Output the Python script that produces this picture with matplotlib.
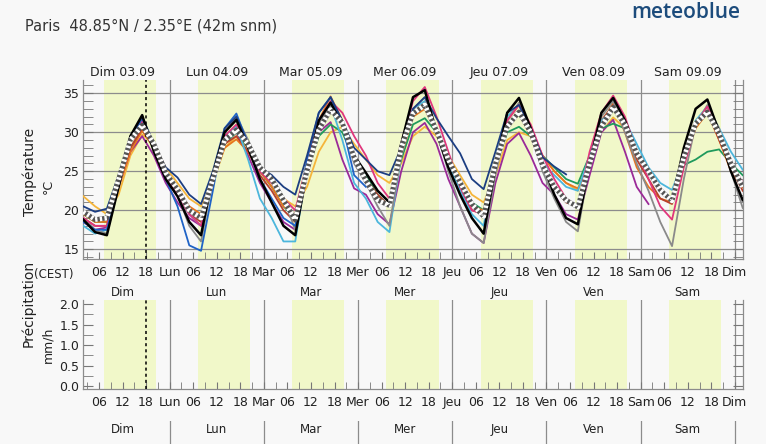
import matplotlib
matplotlib.use("Agg")
import matplotlib.pyplot as plt
from matplotlib.ticker import FixedLocator, MultipleLocator, FormatStrFormatter
import matplotlib.transforms as mtransforms

# hours since Dim 03.09 00:00 CEST, 3-hourly
hours = list(range(2, 171, 3))

day_names = ["Dim", "Lun", "Mar", "Mer", "Jeu", "Ven", "Sam", "Dim"]
day_dates = ["03.09", "04.09", "05.09", "06.09", "07.09", "08.09", "09.09"]

# temperature per model (°C)
t_black = [18.8, 17.2, 16.8, 23.0, 29.5, 32.2, 27.5, 24.0,
           21.8, 18.5, 16.8, 24.5, 30.0, 31.6, 28.0, 24.0,
           21.0, 18.0, 16.8, 25.0, 31.5, 33.8, 31.0, 27.0,
           24.8, 22.5, 21.0, 28.5, 34.5, 35.4, 30.0, 25.5,
           22.0, 19.0, 17.0, 25.5, 32.5, 34.4, 30.5, 26.0,
           22.0, 19.0, 18.2, 26.0, 32.5, 34.4, 31.5, 27.5,
           25.0, 22.5, 21.2, 28.0, 33.0, 34.2, 30.0, 25.0,
           21.3]
t_navy = [20.5, 19.8, 20.2, 24.5, 29.5, 32.0, 28.5, 25.5,
          24.2, 22.0, 20.8, 25.0, 30.5, 32.0, 28.5, 25.5,
          24.5, 23.0, 22.0, 27.0, 32.5, 34.5, 31.5, 28.0,
          26.5, 25.0, 24.5, 28.0, 33.0, 34.5, 31.8, 29.5,
          27.3, 24.0, 22.7, 27.5, 32.5, 33.5, 30.5, 26.8,
          25.6, 24.6]
t_blue = [18.5, 17.5, 17.5, 23.5, 29.0, 31.8, 28.0, 24.0,
          20.5, 15.5, 14.8, 22.5, 30.5, 32.4, 28.5, 24.0,
          21.5, 19.0, 18.0, 26.5, 32.5, 34.5, 31.0, 24.5,
          23.0]
t_lightblue = [18.0, 17.0, 17.5, 24.0, 29.0, 31.3, 28.0, 24.5,
               22.0, 19.5, 18.0, 24.5, 29.5, 30.8, 26.5, 21.5,
               19.0, 16.0, 16.0, 25.5, 31.5, 33.5, 29.0, 23.5,
               21.5, 18.5, 17.2, 27.0, 33.0, 34.0, 30.5, 26.0,
               22.5, 19.5, 18.0, 26.5, 32.0, 33.5, 30.0, 26.0,
               24.5, 23.0, 22.5, 27.0, 31.5, 32.8, 31.5, 28.5,
               25.5, 23.5, 22.6, 26.5, 31.5, 33.3, 30.5, 27.5,
               25.2]
t_orange = [19.5, 18.5, 18.5, 23.0, 27.5, 30.2, 28.0, 25.0,
            22.5, 20.5, 19.5, 24.0, 28.0, 29.1, 27.5, 25.0,
            23.0, 20.5, 19.5, 25.5, 31.5, 34.6, 31.5, 26.5,
            24.0, 21.5, 20.5, 27.0, 32.0, 33.0, 30.0, 26.0,
            23.0, 20.5, 20.0, 26.0, 31.5, 33.5, 30.5, 27.0,
            25.0, 23.5, 22.8, 26.0, 31.0, 33.8, 30.0, 25.5,
            23.0, 21.5, 21.0, 26.0, 30.5, 32.5, 29.0, 25.0,
            23.0]
t_yellow = [21.8, 20.5, 19.5, 22.0, 27.0, 29.7, 28.5, 25.5,
            23.5, 21.5, 20.5, 23.5, 28.0, 29.5, 28.0, 25.5,
            23.5, 21.5, 20.5, 23.0, 27.5, 30.0, 30.7, 28.5,
            26.5, 24.5, 23.5, 26.0, 29.5, 30.7, 29.5, 27.0,
            24.5, 22.0, 21.0, 24.5, 29.0, 30.0, 29.5, 27.0,
            25.0, 23.5, 22.5, 26.5, 30.0, 31.9, 30.5, 26.5]
t_red = [19.0, 18.0, 18.0, 23.5, 28.0, 30.5, 28.0, 24.5,
         22.0, 19.5, 18.5, 24.0, 28.5, 29.5, 27.5, 24.5,
         22.5, 20.0, 18.5, 25.0, 30.5, 33.0, 31.0, 26.5,
         24.0, 22.0, 20.5, 27.5, 32.5, 33.8, 30.0, 25.5,
         22.5, 20.0, 19.5, 26.0, 31.0, 32.5, 29.5, 25.5,
         23.0, 21.0, 20.5, 26.5, 31.5, 33.5, 30.5, 26.5,
         24.0, 21.5, 20.8, 26.5, 31.0, 32.8, 29.0, 25.5,
         22.5]
t_pink = [19.0, 18.0, 18.0, 23.5, 29.0, 31.5, 28.5, 24.5,
          22.0, 19.5, 18.0, 24.5, 29.5, 31.0, 28.0, 25.0,
          23.5, 21.5, 20.0, 26.0, 31.5, 34.0, 32.5, 29.5,
          27.0, 23.5, 21.5, 28.5, 34.0, 35.8, 32.0, 27.5,
          23.0, 20.0, 19.5, 26.0, 31.5, 33.5, 31.0, 27.0,
          24.0, 21.5, 20.5, 27.5, 32.5, 34.7, 32.0, 27.5,
          24.0, 20.5, 18.8, 25.5, 31.0, 33.3, 30.0, 26.0,
          23.5]
t_purple = [18.5, 17.5, 17.8, 23.0, 27.5, 29.5, 27.0, 23.5,
            21.0, 19.0, 18.0, 23.5, 28.5, 30.0, 27.0, 23.5,
            21.0, 18.5, 17.5, 24.5, 30.0, 31.3, 26.5, 22.8,
            22.0, 19.5, 18.2, 25.0, 30.0, 31.2, 28.5, 24.0,
            20.5, 17.0, 15.8, 23.5, 28.5, 29.9, 27.0, 23.5,
            22.0, 19.5, 18.8, 24.5, 30.0, 31.6, 27.5, 23.0,
            20.8]
t_green = [19.5, 18.5, 18.5, 23.5, 28.0, 30.3, 28.0, 24.8,
           22.5, 20.0, 19.0, 24.0, 28.5, 30.0, 28.0, 25.0,
           23.0, 20.5, 19.0, 25.0, 29.5, 31.0, 30.0, 26.5,
           24.5, 22.0, 20.5, 26.5, 31.0, 31.8, 30.0, 26.5,
           23.5, 21.0, 20.0, 25.5, 30.0, 30.7, 29.5, 27.0,
           25.5, 24.0, 23.4, 27.0, 30.5, 31.1, 30.5, 27.5,
           25.0, 22.5, 21.5, 25.8, 26.5, 27.5, 27.8, 26.0,
           24.5]
t_grey = [19.0, 17.5, 17.0, 23.0, 29.0, 31.5, 28.5, 25.0,
          22.0, 18.0, 16.0, 24.0, 30.0, 32.0, 29.0, 25.5,
          24.5, 21.5, 17.5, 25.0, 31.0, 33.5, 31.0, 26.0,
          23.5, 20.5, 18.0, 27.0, 33.0, 34.5, 30.0, 25.0,
          20.5, 17.0, 15.8, 24.5, 31.5, 33.8, 30.0, 25.0,
          21.5, 18.5, 17.3, 26.0, 32.0, 34.0, 30.0, 26.0,
          22.5, 18.5, 15.4, 24.0, 31.0, 33.5, 30.5, 25.0,
          20.3]
t_mean = [19.8, 18.8, 19.0, 24.0, 29.0, 30.9, 28.5, 24.8,
          22.7, 20.0, 19.0, 24.0, 29.0, 30.3, 28.5, 25.5,
          24.0, 21.3, 18.8, 25.1, 30.3, 32.9, 31.2, 26.8,
          23.8, 21.3, 20.6, 28.0, 32.4, 33.5, 30.2, 26.5,
          23.6, 20.8, 19.2, 26.0, 30.7, 32.6, 30.0, 25.8,
          23.0, 21.3, 20.4, 26.0, 30.7, 33.2, 31.0, 27.3,
          25.0, 22.6, 21.2, 26.8, 31.1, 32.6, 29.8, 26.0,
          23.0]

models = [
    (t_yellow, "#f5b53a"),
    (t_purple, "#9b2a98"),
    (t_green, "#1f9a5c"),
    (t_orange, "#e8761e"),
    (t_red, "#b8402c"),
    (t_lightblue, "#4cb6dc"),
    (t_grey, "#8a8a8a"),
    (t_pink, "#e0367c"),
    (t_blue, "#1f63c6"),
    (t_navy, "#1c3e82"),
]

precip = [0.0] * len(hours)

sunrise, sunset = 7.2, 20.5
W, H = 766, 444
bg = "#f8f8f8"
shade = "#f1f8c9"
gridc = "#8c8c8c"
txtc = "#222222"

plt.rcParams["font.family"] = "DejaVu Sans"
fig = plt.figure(figsize=(W / 100, H / 100), dpi=100, facecolor=bg)

x0, x1 = 2, 170
ax_l = 83.3 / W
ax_w = 659.4 / W
ax = fig.add_axes([ax_l, (H - 259) / H, ax_w, 179 / H])
axp = fig.add_axes([ax_l, (H - 389.3) / H, ax_w, 89.3 / H])
axd = fig.add_axes([ax_l, 0, ax_w, 23 / H])

major_x = [h for h in range(6, 170, 6)]
major_lbl = [day_names[h // 24] if h % 24 == 0 else "%02d" % (h % 24) for h in major_x]

for a in (ax, axp):
    a.set_facecolor(bg)
    a.set_xlim(x0, x1)
    for d in range(7):
        a.axvspan(24 * d + sunrise, 24 * d + sunset, color=shade, lw=0, zorder=0)
    for d in range(1, 8):
        a.axvline(24 * d, color=gridc, lw=0.9, zorder=1)
    a.axvline(18, color="black", ls=(0, (2, 2)), lw=1.1, zorder=5)
    a.spines["top"].set_visible(False)
    for s in ("left", "right", "bottom"):
        a.spines[s].set_color(gridc)
        a.spines[s].set_linewidth(0.9)
    a.xaxis.set_major_locator(FixedLocator(major_x))
    a.xaxis.set_minor_locator(MultipleLocator(3))
    a.set_xticklabels(major_lbl)
    a.tick_params(axis="x", which="both", direction="in", length=5, color="#777777",
                  labelsize=9, labelcolor=txtc, pad=5)
    a.tick_params(axis="y", which="both", direction="in", length=7, color="#777777",
                  left=True, right=True, labelsize=9, labelcolor=txtc, pad=3)

# temperature panel
ax.set_ylim(13.75, 36.7)
ax.yaxis.set_major_locator(MultipleLocator(5))
ax.yaxis.set_minor_locator(MultipleLocator(1))
for v in range(15, 36, 5):
    ax.axhline(v, color=gridc, lw=0.9, zorder=1)

for vals, col in models:
    ax.plot(hours[:len(vals)], vals, color=col, lw=1.3, zorder=3, solid_joinstyle="round")
ax.plot(hours, t_black, color="black", lw=1.8, zorder=4, solid_joinstyle="round")
ax.plot(hours, t_mean, color="#555555", lw=3.4, zorder=6, solid_capstyle="butt")
ax.plot(hours, t_mean, color="white", lw=3.4, ls=(0, (0.5, 0.5)), zorder=7)

trans = mtransforms.blended_transform_factory(ax.transData, ax.transAxes)
for d in range(7):
    ax.text(24 * d + 12, 1 + 9 / 179, day_names[d] + " " + day_dates[d], transform=trans,
            ha="center", va="center_baseline", fontsize=9, color=txtc)
    ax.text(24 * d + 12, -32 / 179, day_names[d], transform=trans,
            ha="center", va="center_baseline", fontsize=8.5, color=txtc)

# precipitation panel
axp.bar(hours, precip, width=1, color="#4c9be8", zorder=3)
axp.set_ylim(-0.08, 2.1)
axp.yaxis.set_major_locator(MultipleLocator(0.5))
axp.yaxis.set_minor_locator(MultipleLocator(0.25))
axp.yaxis.set_major_formatter(FormatStrFormatter("%.1f"))

# day names row under precipitation
axd.set_xlim(x0, x1)
axd.set_ylim(0, 1)
axd.axis("off")
for d in range(1, 8):
    axd.axvline(24 * d, color=gridc, lw=0.9)
for d in range(7):
    axd.text(24 * d + 12, 0.7, day_names[d], ha="center", va="center_baseline",
             fontsize=8.5, color=txtc)

fig.text(25 / W, 1 - 26 / H, "Paris  48.85°N / 2.35°E (42m snm)", ha="left", va="center",
         fontsize=10.5, color="#333333")
fig.text(740 / W, 1 - 13 / H, "meteoblue", ha="right", va="center", fontsize=15,
         color="#1d4c7c", family="Open Sans", weight="semibold")

fig.text(30 / W, 1 - 172 / H, "Température", rotation=90, ha="center", va="center",
         fontsize=10, color=txtc)
fig.text(48 / W, 1 - 186 / H, "°C", rotation=90, ha="center", va="center",
         fontsize=9, color=txtc)
fig.text(54 / W, 1 - 274 / H, "(CEST)", ha="center", va="center", fontsize=8.5, color=txtc)
fig.text(28 / W, 1 - 303 / H, "Précipitation", rotation=90, ha="center", va="center",
         fontsize=10, color=txtc)
fig.text(48 / W, 1 - 345 / H, "mm/h", rotation=90, ha="center", va="center",
         fontsize=9, color=txtc)

fig.savefig("out.png", dpi=100, facecolor=bg)
